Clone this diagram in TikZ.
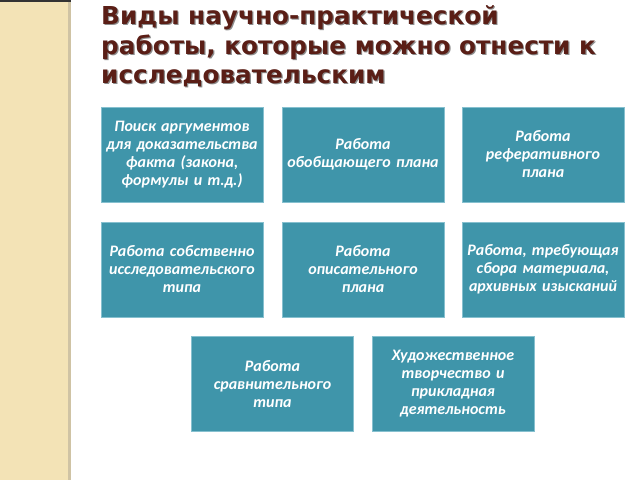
\documentclass[tikz,border=0pt]{standalone}
\usepackage{fontspec}
\setmainfont{Carlito}
\newfontfamily\titlefont{DejaVu Sans}
\definecolor{boxfill}{HTML}{3F95AA}
\definecolor{boxedge}{HTML}{86C0CF}
\definecolor{titlebrown}{HTML}{5A1E16}
\definecolor{strip}{HTML}{F3E3B6}
\definecolor{stripedge}{HTML}{CFC3A4}
\tikzset{
  itembox/.style={draw=boxedge, line width=0.8pt, fill=boxfill, minimum width=162pt, minimum height=95pt,
    inner sep=0pt, text width=158pt, align=center, text=white,
    font=\fontsize{16}{18}\selectfont\bfseries\itshape},
  titletext/.style={anchor=north west, align=left, inner sep=0pt,
    font=\titlefont\fontsize{24.7}{29.5}\selectfont\bfseries}
}
\begin{document}
\begin{tikzpicture}[x=1pt,y=-1pt]
\useasboundingbox (0,0) rectangle (640,480);
\fill[white] (0,0) rectangle (640,480);
\fill[strip] (0,0) rectangle (69,480);
\fill[stripedge] (68,0) rectangle (71,480);
\fill[black!80] (0,0) rectangle (71,2);
\node[titletext, text=black!45] (titleshadow) at (102.2,6.7) {Виды научно-практической\\работы, которые можно отнести к\\исследовательским};
\node[titletext, text=titlebrown] (title) at (101,5.5) {Виды научно-практической\\работы, которые можно отнести к\\исследовательским};
\node[itembox] (b1) at (182,154.5) {Поиск аргументов\\для доказательства\\факта (закона,\\формулы и т.д.)};
\node[itembox] (b2) at (363,154.5) {Работа\\обобщающего плана};
\node[itembox] (b3) at (543,154.5) {Работа\\реферативного\\плана};
\node[itembox] (b4) at (182,269.5) {Работа собственно\\исследовательского\\типа};
\node[itembox] (b5) at (363,269.5) {Работа\\описательного\\плана};
\node[itembox] (b6) at (543,269.5) {Работа, требующая\\сбора материала,\\архивных изысканий};
\node[itembox] (b7) at (272.5,384) {Работа\\сравнительного\\типа};
\node[itembox] (b8) at (453,384) {Художественное\\творчество и\\прикладная\\деятельность};
\end{tikzpicture}
\end{document}
